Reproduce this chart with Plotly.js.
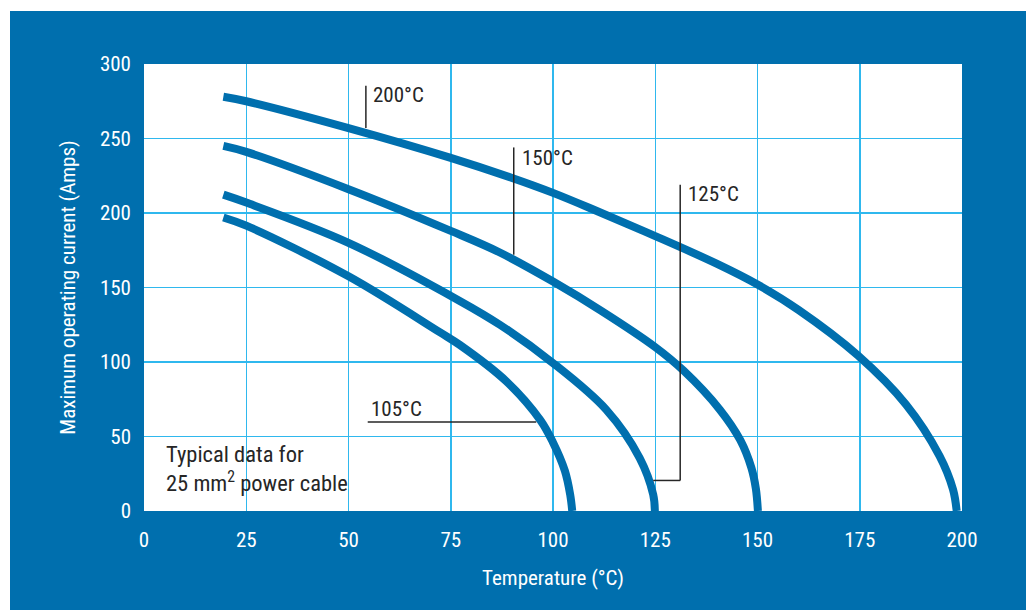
<!DOCTYPE html>
<html>
<head>
<meta charset="utf-8">
<script src="https://cdn.plot.ly/plotly-3.0.1.min.js"></script>
<style>
  html, body { margin: 0; padding: 0; background: #ffffff; }
  #chart { position: absolute; left: 10px; top: 11px; width: 1016px; height: 599px; }
</style>
</head>
<body>
<div id="chart"></div>
<script>
// Temperature (°C) and maximum operating current (Amps)
const temps200 = [19.4, 25, 50, 75, 90, 100, 111, 125, 140, 150, 160, 174.5, 186.3, 194.5, 197.8, 198.7];
const amps200  = [278, 275, 257, 237, 223.5, 213.5, 201, 184.5, 166, 152, 135, 104.5, 71.5, 37, 14.5, 0];

const temps150 = [19.4, 25, 50, 75, 87, 100, 112, 125, 132, 140.8, 145.8, 148.5, 149.6, 150.1];
const amps150  = [245, 241, 216, 188, 173.5, 154, 134, 110, 94, 68, 47.5, 29, 15, 0];

const temps125 = [19.4, 25, 50, 77.2, 87, 100, 113, 121.2, 124.5, 124.9];
const amps125  = [212.3, 207, 180, 141, 125, 99.3, 68, 35.5, 11, 0];

const temps105 = [19.4, 25, 50, 72.3, 77.2, 88.6, 96.9, 100, 102.9, 104.2, 104.7];
const amps105  = [197, 191.5, 157.5, 120, 111.5, 87, 61, 46, 27, 11, 0];

const seriesNames = ['200°C', '150°C', '125°C', '105°C'];
const xTicks = [0, 25, 50, 75, 100, 125, 150, 175, 200];
const yTicks = [0, 50, 100, 150, 200, 250, 300];

const BLUE = '#006FAE';
const GRID = '#2FB8EE';
const INK = '#262626';
const FONT = '"Roboto Condensed", "Liberation Sans Narrow", Roboto, sans-serif';

const xs = [temps200, temps150, temps125, temps105];
const ys = [amps200, amps150, amps125, amps105];

const traces = xs.map((x, i) => ({
  x: x, y: ys[i], name: seriesNames[i],
  type: 'scatter', mode: 'lines',
  line: { color: BLUE, width: 8, shape: 'spline', smoothing: 1 },
  hoverinfo: 'skip'
}));

const leader = { color: INK, width: 1.5 };
const shapes = [
  { type: 'line', xref: 'x', yref: 'y', x0: 54.25, x1: 54.25, y0: 285.4, y1: 257, line: leader },
  { type: 'line', xref: 'x', yref: 'y', x0: 90.4, x1: 90.4, y0: 244, y1: 172, line: leader },
  { type: 'line', xref: 'x', yref: 'y', x0: 131.1, x1: 131.1, y0: 219, y1: 20.5, line: leader },
  { type: 'line', xref: 'x', yref: 'y', x0: 131.1, x1: 124.5, y0: 20.5, y1: 20.5, line: leader },
  { type: 'line', xref: 'x', yref: 'y', x0: 54.7, x1: 95.9, y0: 59.7, y1: 59.7, line: leader }
];

const labelFont = { family: FONT, size: 21, color: INK };
const noteFont = { family: FONT, size: 22.5, color: INK };
const annotations = [
  { x: 55.6, y: 279, text: seriesNames[0], xref: 'x', yref: 'y', xanchor: 'left', yanchor: 'middle', showarrow: false, font: labelFont },
  { x: 91.9, y: 237, text: seriesNames[1], xref: 'x', yref: 'y', xanchor: 'left', yanchor: 'middle', showarrow: false, font: labelFont },
  { x: 132.6, y: 213, text: seriesNames[2], xref: 'x', yref: 'y', xanchor: 'left', yanchor: 'middle', showarrow: false, font: labelFont },
  { x: 55.0, y: 68.5, text: seriesNames[3], xref: 'x', yref: 'y', xanchor: 'left', yanchor: 'middle', showarrow: false, font: labelFont },
  { x: 5.0, y: 28.4, text: 'Typical data for<br>25 mm<sup>2</sup> power cable', xref: 'x', yref: 'y',
    xanchor: 'left', yanchor: 'middle', align: 'left', showarrow: false, font: noteFont }
];

const layout = {
  width: 1016, height: 599,
  paper_bgcolor: BLUE, plot_bgcolor: '#ffffff',
  margin: { l: 134, r: 63.6, t: 53.3, b: 98.7, pad: 0 },
  showlegend: false,
  font: { family: FONT, size: 21, color: '#ffffff' },
  xaxis: {
    range: [0, 200], tickvals: xTicks, ticktext: xTicks.map(String),
    showgrid: true, gridcolor: GRID, gridwidth: 1.5, zeroline: false,
    showline: false, ticks: '', ticklabelstandoff: 14,
    tickfont: { family: FONT, size: 21, color: '#ffffff' },
    title: { text: 'Temperature (°C)', standoff: 19, font: { family: FONT, size: 21, color: '#ffffff' } },
    fixedrange: true
  },
  yaxis: {
    range: [0, 300], tickvals: yTicks, ticktext: yTicks.map(String),
    showgrid: true, gridcolor: GRID, gridwidth: 1.5, zeroline: false,
    showline: false, ticks: '', ticklabelstandoff: 12,
    tickfont: { family: FONT, size: 21, color: '#ffffff' },
    title: { text: 'Maximum operating current (Amps)', standoff: 18, font: { family: FONT, size: 21, color: '#ffffff' } },
    fixedrange: true
  },
  shapes: shapes,
  annotations: annotations
};

Plotly.newPlot('chart', traces, layout, { displayModeBar: false, staticPlot: true });
</script>
</body>
</html>
